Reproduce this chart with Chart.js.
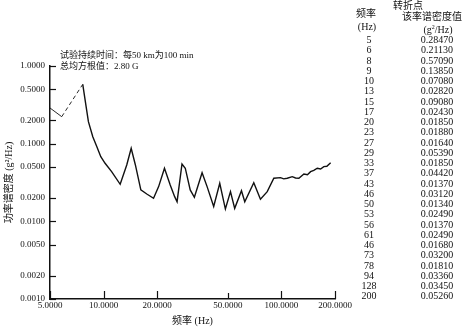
<!DOCTYPE html>
<html>
<head>
<meta charset="utf-8">
<script src="https://cdn.jsdelivr.net/npm/chart.js@4.4.1/dist/chart.umd.min.js"></script>
<style>
  html, body { margin: 0; padding: 0; background: #fff; }
  #wrap { position: relative; width: 472px; height: 327px; overflow: hidden; }
  #chart { position: absolute; left: 0; top: 0; }
  .t { position: absolute; font-family: "Liberation Serif", "Noto Sans CJK SC", serif; color: #111; white-space: nowrap; line-height: 1; }
  .c { transform: translateX(-50%); }
</style>
</head>
<body>
<div id="wrap">
  <canvas id="chart" width="472" height="327"></canvas>
  <div class="t" style="left:60px;top:51px;font-size:9px;">试验持续时间：每50 km为100 min</div>
  <div class="t" style="left:60px;top:62px;font-size:9px;">总均方根值：2.80 G</div>
  <div id="table"></div>
</div>
<script>
// curve (Hz, g^2/Hz)
const freqs = [5, 5.82, 7.64, 7.98, 8.22, 8.7, 9.17, 9.65, 10.2, 11.1, 12.4, 13.5, 14.3, 15.1, 16.2, 17.5, 19.1,
    20.4, 22.0, 23.7, 25.1, 25.9, 27.6, 28.8, 30.7, 32.4, 35.8, 38.2, 41.6, 45.0, 48.4, 51.7, 54.6, 59.6, 62.2,
    69.9, 76.2, 83.2, 90.6, 98.8, 103, 107.8, 115, 120, 125.3, 133.7, 140, 145.8, 152, 159, 166, 173, 180, 189];
const psd = [0.288, 0.2226, 0.581, 0.2995, 0.192, 0.123, 0.0915, 0.068, 0.0559, 0.0436, 0.030, 0.0532, 0.0872,
    0.0532, 0.0254, 0.0225, 0.0198, 0.028, 0.0483, 0.0294, 0.0208, 0.0179, 0.0548, 0.0483, 0.0254, 0.0204, 0.0423,
    0.028, 0.0155, 0.0309, 0.0144, 0.0241, 0.0147, 0.0248, 0.0179, 0.0315, 0.0193, 0.0241, 0.0359, 0.0365, 0.0352,
    0.0359, 0.0376, 0.0362, 0.0359, 0.0407, 0.0398, 0.0436, 0.0452, 0.0483, 0.0472, 0.0506, 0.0512, 0.0569];

const yTicks = [1, 0.5, 0.2, 0.1, 0.05, 0.02, 0.01, 0.005, 0.002, 0.001];
const xTicks = [5, 10, 20, 50, 100, 200];

// break-point table on the right
const tableFreqs = ["5", "6", "8", "9", "10", "13", "15", "17", "20", "23", "27", "29", "33",
    "37", "43", "46", "50", "53", "56", "61", "46", "73", "78", "94", "128", "200"];
const tableValues = ["0.28470", "0.21130", "0.57090", "0.13850", "0.07080", "0.02820", "0.09080", "0.02430",
    "0.01850", "0.01880", "0.01640", "0.05390", "0.01850", "0.04420", "0.01370", "0.03120", "0.01340",
    "0.02490", "0.01370", "0.02490", "0.01680", "0.03200", "0.01810", "0.03360", "0.03450", "0.05260"];

const serif = '"Liberation Serif", "Noto Sans CJK SC", serif';

function buildTable() {
    const el = document.getElementById("table");
    let html = "";
    html += `<div class="t c" style="left:408px;top:1px;font-size:10px;">转折点</div>`;
    html += `<div class="t c" style="left:366px;top:9px;font-size:10px;">频率</div>`;
    html += `<div class="t c" style="left:432px;top:12px;font-size:10px;">该率谱密度值</div>`;
    html += `<div class="t c" style="left:367px;top:22px;font-size:10px;">(Hz)</div>`;
    html += `<div class="t c" style="left:438px;top:24px;font-size:10px;">(g<sup style="font-size:6px">2</sup>/Hz)</div>`;
    tableFreqs.forEach((f, i) => {
        const top = 35 + i * 10.25;
        html += `<div class="t c" style="left:369px;top:${top}px;font-size:10px;">${f}</div>`;
        html += `<div class="t c" style="left:437px;top:${top}px;font-size:10px;">${tableValues[i]}</div>`;
    });
    el.innerHTML = html;
}
buildTable();

const innerTicks = {
    id: "innerTicks",
    afterDraw(chart) {
        const ctx = chart.ctx;
        const x = chart.scales.x, y = chart.scales.y;
        ctx.save();
        ctx.strokeStyle = "#111";
        ctx.lineWidth = 1.2;
        yTicks.forEach(v => {
            const py = Math.round(y.getPixelForValue(v)) + 0.5;
            ctx.beginPath();
            ctx.moveTo(x.left, py);
            ctx.lineTo(x.left + 6, py);
            ctx.stroke();
        });
        xTicks.forEach(v => {
            const px = Math.round(x.getPixelForValue(v)) + 0.5;
            ctx.beginPath();
            ctx.moveTo(px, y.bottom);
            ctx.lineTo(px, y.bottom - (v === 50 ? 6 : 8));
            ctx.stroke();
        });
        ctx.restore();
    }
};

new Chart(document.getElementById("chart"), {
    type: "line",
    data: {
        datasets: [{
            data: freqs.map((f, i) => ({ x: f, y: psd[i] })),
            borderColor: "#111",
            borderWidth: 1.4,
            pointRadius: 0,
            tension: 0,
            segment: {
                borderDash: ctx => ctx.p0DataIndex === 1 ? [4, 3] : undefined,
                borderWidth: ctx => ctx.p0DataIndex < 2 ? 0.9 : 1.4
            }
        }]
    },
    options: {
        responsive: false,
        animation: false,
        layout: { padding: { top: 66, right: 137, left: 0, bottom: 0 } },
        plugins: { legend: { display: false }, tooltip: { enabled: false } },
        scales: {
            x: {
                type: "logarithmic",
                min: 5,
                max: 200,
                afterBuildTicks: s => { s.ticks = xTicks.map(v => ({ value: v })); },
                afterFit: s => { s.height = 28; },
                ticks: {
                    color: "#111",
                    font: { family: serif, size: 9 },
                    padding: 1,
                    maxRotation: 0,
                    autoSkip: false,
                    callback: v => Number(v).toFixed(4)
                },
                grid: { drawOnChartArea: false, drawTicks: false },
                border: { display: true, color: "#111", width: 1.5 },
                title: {
                    display: true,
                    text: "频率 (Hz)",
                    color: "#111",
                    font: { family: serif, size: 10 },
                    padding: { top: 4, bottom: 0 }
                }
            },
            y: {
                type: "logarithmic",
                min: 0.001,
                max: 1,
                afterBuildTicks: s => { s.ticks = yTicks.map(v => ({ value: v })); },
                afterFit: s => { s.width = 50; },
                ticks: {
                    color: "#111",
                    font: { family: serif, size: 9 },
                    padding: 5,
                    autoSkip: false,
                    callback: v => Number(v).toFixed(4)
                },
                grid: { drawOnChartArea: false, drawTicks: false },
                border: { display: true, color: "#111", width: 1.5 },
                title: {
                    display: true,
                    text: "功率谱密度 (g²/Hz)",
                    color: "#111",
                    font: { family: serif, size: 10 },
                    padding: { top: 3, bottom: 0 }
                }
            }
        }
    },
    plugins: [innerTicks]
});
</script>
</body>
</html>
